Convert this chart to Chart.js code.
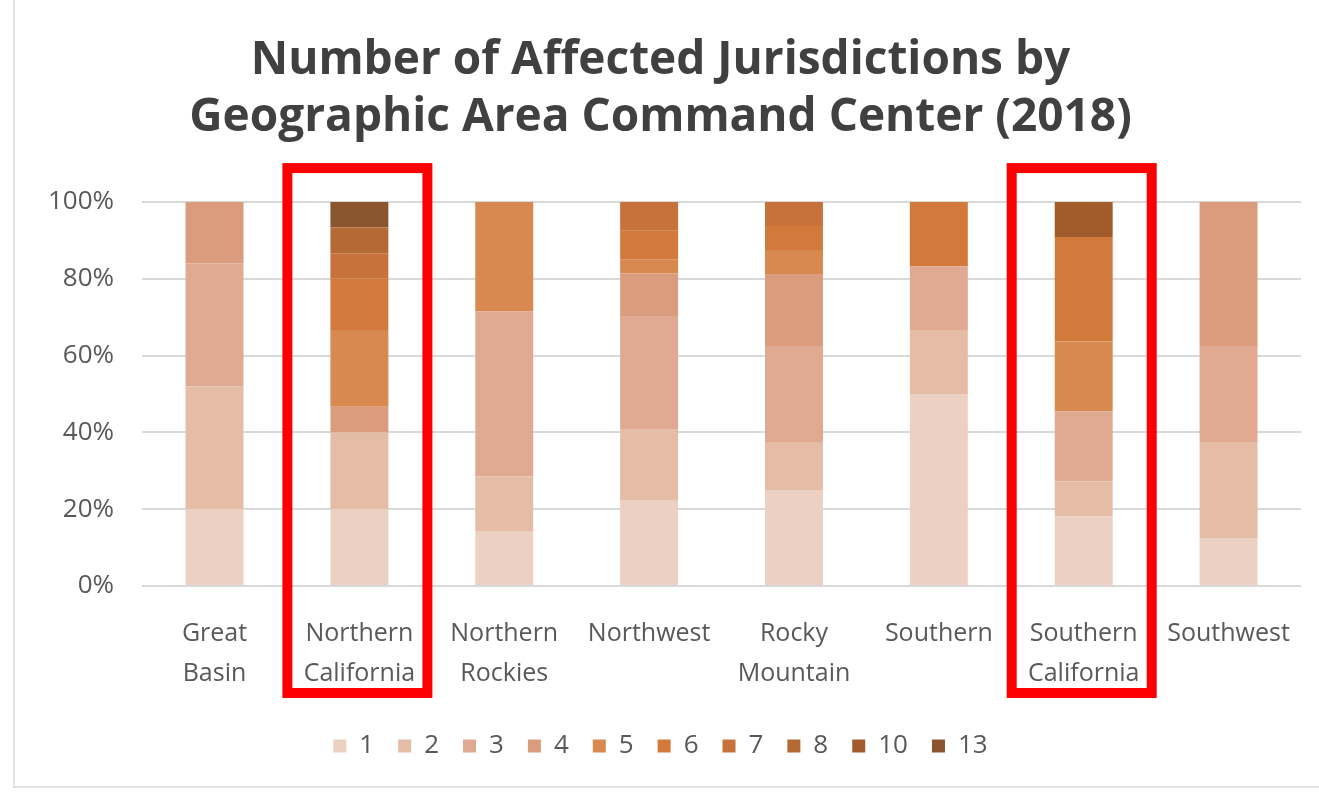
<!DOCTYPE html>
<html>
<head>
<meta charset="utf-8">
<script src="https://cdn.jsdelivr.net/npm/chart.js@4"></script>
<style>
  body { margin: 0; background: #fff; }
  #wrap { position: relative; width: 1319px; height: 795px; }
  #frame { position: absolute; left: 13px; top: 0; width: 1306px; height: 788px;
           border-left: 2px solid #e2e2e2; border-bottom: 2px solid #e2e2e2; box-sizing: border-box; pointer-events: none; }
</style>
</head>
<body>
<div id="wrap">
  <canvas id="chart"></canvas>
  <div id="frame"></div>
</div>
<script>
// regions (x axis), split on two lines like the original
const regions = [
  ['Great', 'Basin'], ['Northern', 'California'], ['Northern', 'Rockies'], ['Northwest'],
  ['Rocky', 'Mountain'], ['Southern'], ['Southern', 'California'], ['Southwest']
];
const highlighted = [1, 6]; // Northern / Southern California

// number of affected jurisdictions (legend)
const groups = ['1', '2', '3', '4', '5', '6', '7', '8', '10', '13'];

// share of incidents per region, %
const j1  = [20, 20, 14.3, 22.2, 25, 50, 18.2, 12.5];
const j2  = [32, 20, 14.3, 18.5, 12.5, 16.7, 9.1, 25];
const j3  = [32, 0, 42.9, 29.6, 25, 16.6, 18.2, 25];
const j4  = [16, 6.7, 0, 11.1, 18.75, 0, 0, 37.5];
const j5  = [0, 20, 28.5, 3.7, 6.25, 0, 18.2, 0];
const j6  = [0, 13.3, 0, 7.4, 6.25, 16.7, 27.2, 0];
const j7  = [0, 6.7, 0, 7.5, 6.25, 0, 0, 0];
const j8  = [0, 6.7, 0, 0, 0, 0, 0, 0];
const j10 = [0, 0, 0, 0, 0, 0, 9.1, 0];
const j13 = [0, 6.6, 0, 0, 0, 0, 0, 0];

const yTicks = [0, 20, 40, 60, 80, 100];

const colors = ['#ecd0c2', '#e5bca6', '#dfaa91', '#da9c7d', '#d8894f',
                '#d17a3c', '#c6723a', '#b56a36', '#a25c2b', '#8a542e'];

const values = [j1, j2, j3, j4, j5, j6, j7, j8, j10, j13];
const datasets = groups.map((g, i) => ({
  label: g,
  data: values[i],
  backgroundColor: colors[i],
  borderWidth: 0,
  categoryPercentage: 0.4,
  barPercentage: 1
}));

// red boxes around the two California regions
const boxPlugin = {
  id: 'boxes',
  afterDraw(chart) {
    const ctx = chart.ctx;
    const x = chart.scales.x;
    const area = chart.chartArea;
    ctx.save();
    ctx.strokeStyle = '#ff0000';
    ctx.lineWidth = 10;
    highlighted.forEach(i => {
      const c = x.getPixelForValue(i) - 2;
      ctx.strokeRect(c - 70, area.top - 34, 140, area.bottom - area.top + 141);
    });
    ctx.restore();
  }
};

new Chart(document.getElementById('chart'), {
  type: 'bar',
  data: { labels: regions, datasets: datasets },
  plugins: [boxPlugin],
  options: {
    responsive: true,
    maintainAspectRatio: false,
    animation: false,
    layout: { padding: { left: 20, right: 18, top: 0, bottom: 26 } },
    plugins: {
      title: {
        display: true,
        text: ['Number of Affected Jurisdictions by', 'Geographic Area Command Center (2018)'],
        color: '#404040',
        font: { family: 'Open Sans', size: 46, weight: 'bold', lineHeight: 1.24 },
        padding: { top: 32, bottom: 56 }
      },
      legend: {
        position: 'bottom',
        labels: {
          color: '#595959',
          font: { family: 'Open Sans', size: 26 },
          boxWidth: 13,
          boxHeight: 13,
          padding: 24
        }
      },
      tooltip: { enabled: false }
    },
    scales: {
      x: {
        stacked: true,
        grid: { display: false },
        border: { display: false },
        afterFit: scale => { scale.height -= 5; },
        ticks: {
          color: '#595959',
          font: { family: 'Open Sans', size: 25, lineHeight: 1.6 },
          maxRotation: 0,
          autoSkip: false,
          padding: 20
        }
      },
      y: {
        stacked: true,
        min: 0,
        max: 100,
        afterBuildTicks: axis => { axis.ticks = yTicks.map(v => ({ value: v })); },
        grid: { color: '#d9d9d9', lineWidth: 2, drawTicks: false },
        border: { display: false },
        ticks: {
          color: '#595959',
          font: { family: 'Open Sans', size: 26 },
          padding: 28,
          callback: v => v + '%'
        }
      }
    }
  }
});
</script>
</body>
</html>
